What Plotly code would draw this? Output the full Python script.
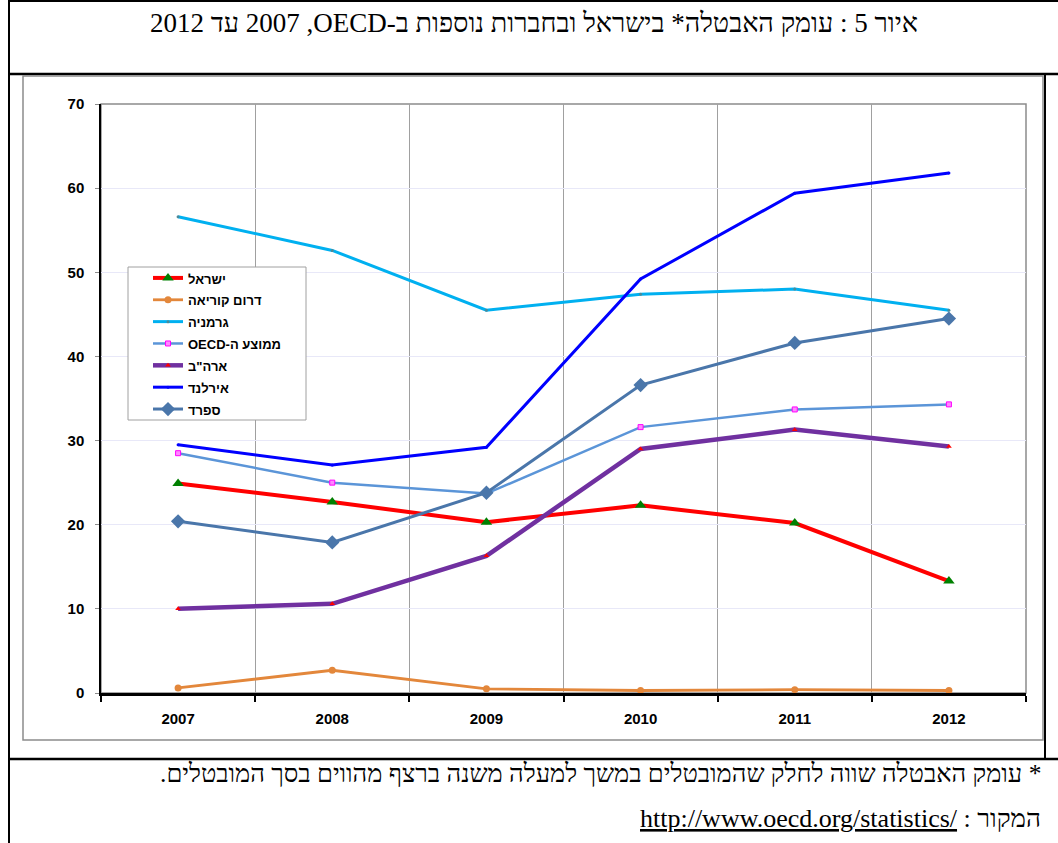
import plotly.graph_objects as go

# ---------------- data ----------------
years = [2007, 2008, 2009, 2010, 2011, 2012]
year_labels = ["2007", "2008", "2009", "2010", "2011", "2012"]

israel = [24.9, 22.7, 20.3, 22.3, 20.2, 13.3]
korea = [0.6, 2.7, 0.5, 0.3, 0.4, 0.3]
germany = [56.6, 52.6, 45.5, 47.4, 48.0, 45.5]
oecd = [28.5, 25.0, 23.7, 31.6, 33.7, 34.3]
usa = [10.0, 10.6, 16.3, 29.0, 31.3, 29.3]
ireland = [29.5, 27.1, 29.2, 49.2, 59.4, 61.8]
spain = [20.4, 17.9, 23.8, 36.6, 41.6, 44.5]

names = ["ישראל", "דרום קוריאה", "גרמניה", "ממוצע ה-OECD", "ארה\"ב", "אירלנד", "ספרד"]

title_text = "איור 5 : עומק האבטלה* בישראל ובחברות נוספות ב-OECD,\u200F 2007 עד 2012"
note_text = "* עומק האבטלה שווה לחלק שהמובטלים במשך למעלה משנה ברצף מהווים בסך המובטלים."
source_label = "המקור : "
source_url = "http://www.oecd.org/statistics/"

# ---------------- layout helpers (pixel -> paper) ----------------
FW, FH = 1058, 843
L, R, T, B = 101, 1026, 104, 693
PW, PH = R - L, B - T


def px(x):
    return (x - L) / PW


def py(y):
    return (B - y) / PH


RLE, PDF = "\u202B", "\u202C"


def leg(name):
    return "<b><span style='font-size:13px'>" + RLE + name + PDF + "</span></b>"


styles = [
    dict(color="#FF0000", width=4, msym="triangle-up", msize=10, mcolor="#008000", mline=None),
    dict(color="#E3873B", width=2.8, msym="circle", msize=7, mcolor="#E3873B", mline=None),
    dict(color="#00B0F0", width=3, msym="circle", msize=3, mcolor="#4B8A99", mline=None),
    dict(color="#5B95D8", width=2.5, msym="square", msize=5, mcolor="#FF88FF", mline="#FF00FF"),
    dict(color="#7030A0", width=4.5, msym="triangle-up", msize=5, mcolor="#FF0000", mline=None),
    dict(color="#0000FF", width=3, msym="circle", msize=3, mcolor="#0000FF", mline=None),
    dict(color="#4A76AA", width=3, msym="diamond", msize=11, mcolor="#4A76AA", mline=None),
]
series = [israel, korea, germany, oecd, usa, ireland, spain]

fig = go.Figure()
for name, vals, st in zip(names, series, styles):
    marker = dict(symbol=st["msym"], size=st["msize"], color=st["mcolor"])
    if st["mline"]:
        marker["line"] = dict(color=st["mline"], width=1)
    else:
        marker["line"] = dict(width=0)
    fig.add_trace(go.Scatter(
        x=years, y=vals, name=leg(name), mode="lines+markers",
        line=dict(color=st["color"], width=st["width"]),
        marker=marker,
    ))

shapes = []
black = "#000000"
# document table frame
shapes.append(dict(type="line", xref="paper", yref="paper", x0=px(9), x1=px(1058), y0=py(1), y1=py(1),
                   line=dict(color=black, width=2)))
shapes.append(dict(type="line", xref="paper", yref="paper", x0=px(9), x1=px(1058), y0=py(74), y1=py(74),
                   line=dict(color=black, width=2.5)))
shapes.append(dict(type="line", xref="paper", yref="paper", x0=px(9), x1=px(9), y0=py(0), y1=py(843),
                   line=dict(color=black, width=2)))
shapes.append(dict(type="line", xref="paper", yref="paper", x0=px(1045), x1=px(1045), y0=py(74), y1=py(759),
                   line=dict(color=black, width=2)))
shapes.append(dict(type="line", xref="paper", yref="paper", x0=px(9), x1=px(1058), y0=py(759), y1=py(759),
                   line=dict(color=black, width=2.5)))
# chart object frame
shapes.append(dict(type="rect", xref="paper", yref="paper", x0=px(23), x1=px(1043), y0=py(740), y1=py(76),
                   line=dict(color="#8C8C8C", width=1.5)))
# plot area border
shapes.append(dict(type="rect", xref="paper", yref="paper", x0=0, x1=1, y0=0, y1=1, layer="below",
                   line=dict(color="#8C8C8C", width=1.5)))
# legend box
shapes.append(dict(type="rect", xref="paper", yref="paper", x0=px(128), x1=px(306), y0=py(420), y1=py(267),
                   layer="above", fillcolor="#FFFFFF", line=dict(color="#A0A0A0", width=1)))

serif = "Liberation Serif, Times New Roman, serif"
annotations = [
    dict(text=RLE + title_text + PDF, xref="paper", yref="paper", x=px(534), y=py(23),
         xanchor="center", yanchor="middle", showarrow=False,
         font=dict(family=serif, size=27, color=black)),
    dict(text=RLE + note_text + PDF, xref="paper", yref="paper", x=px(1043), y=py(773),
         xanchor="right", yanchor="middle", showarrow=False,
         font=dict(family=serif, size=25.5, color=black)),
    dict(text=RLE + source_label + "<span style='text-decoration:underline'>" + source_url + "\u200E</span>" + PDF,
         xref="paper", yref="paper", x=px(1043), y=py(818),
         xanchor="right", yanchor="middle", showarrow=False,
         font=dict(family=serif, size=26, color=black)),
]

bounds = [y - 0.5 for y in years] + [years[-1] + 0.5]

fig.update_layout(
    width=FW, height=FH,
    margin=dict(l=L, r=FW - R, t=T, b=FH - B, autoexpand=False),
    paper_bgcolor="#FFFFFF", plot_bgcolor="#FFFFFF",
    font=dict(family="Liberation Sans, Arial, sans-serif", color=black),
    showlegend=True,
    legend=dict(x=px(148), y=py(262), xanchor="left", yanchor="top",
                bgcolor="rgba(0,0,0,0)", borderwidth=0,
                font=dict(family="Liberation Sans, Arial, sans-serif", size=14.5, color=black),
                tracegroupgap=0),
    shapes=shapes,
    annotations=annotations,
    xaxis=dict(range=[years[0] - 0.5, years[-1] + 0.5], tickmode="array", tickvals=years, ticktext=year_labels,
               ticks="", showgrid=False, zeroline=False,
               showline=True, linecolor=black, linewidth=3,
               tickfont=dict(size=15, weight="bold", color=black), ticklabelstandoff=10,
               minor=dict(tickmode="array", tickvals=bounds, ticks="outside", ticklen=6, tickwidth=2,
                          tickcolor=black, showgrid=True, gridcolor="#A0A0A0", gridwidth=1)),
    yaxis=dict(range=[0, 70], tickmode="linear", tick0=0, dtick=10,
               showgrid=True, gridcolor="#E8E8F8", gridwidth=1, zeroline=False,
               showline=True, linecolor=black, linewidth=1.5,
               ticks="outside", ticklen=4, tickcolor="#8C8C8C",
               tickfont=dict(size=15, weight="bold", color=black), ticklabelstandoff=8),
)

fig.write_html("out.html", config={"displayModeBar": False},
               post_script="document.body.style.margin='0';")
